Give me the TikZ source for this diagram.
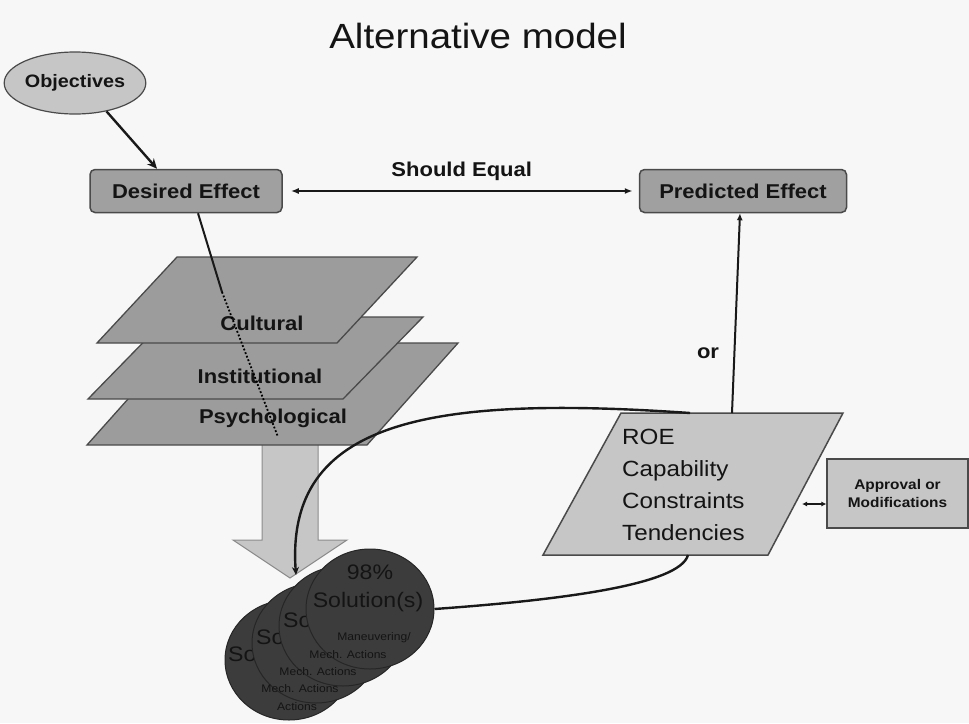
\documentclass[tikz,border=0pt]{standalone}
\usepackage{fontspec}
\setmainfont{Liberation Sans}[FakeStretch=1.1]
\usetikzlibrary{arrows.meta,shapes.geometric}
\definecolor{bg}{HTML}{F7F7F7}
\definecolor{lightfill}{HTML}{C6C6C6}
\definecolor{midfill}{HTML}{A0A0A0}
\definecolor{layerfill}{HTML}{9C9C9C}
\definecolor{darkfill}{HTML}{3C3C3C}
\definecolor{edgecol}{HTML}{4A4A4A}
\definecolor{inktxt}{HTML}{141414}
\tikzset{
  lblbold/.style={font=\fontsize{20}{24}\selectfont\bfseries, text=inktxt},
  effectbox/.style={draw=edgecol, line width=1.5pt, fill=midfill, rounded corners=5pt,
    minimum height=43pt, inner sep=2pt, lblbold},
  layerstyle/.style={draw=edgecol, line width=1.3pt, fill=layerfill},
  connline/.style={draw=black!90, line width=2pt},
  solball/.style={ellipse, draw=black!85, line width=1pt, fill=darkfill,
    minimum width=128pt, minimum height=120pt, inner sep=0pt},
  solbig/.style={text=inktxt, inner sep=0pt, font=\fontsize{21}{24}\selectfont},
  solsmall/.style={text=inktxt, inner sep=0pt, font=\fontsize{11}{13}\selectfont},
}
\begin{document}
\begin{tikzpicture}[x=1pt,y=-1pt]
\fill[bg] (0,0) rectangle (969,723);
\useasboundingbox (0,0) rectangle (969,723);

% title
\node[font=\fontsize{35}{40}\selectfont, text=inktxt] (title) at (478,36) {Alternative model};

% objectives and effects
\node[ellipse, draw=edgecol, line width=1.2pt, fill=lightfill, minimum width=130pt,
  minimum height=62pt, inner sep=0pt, font=\fontsize{18}{22}\selectfont\bfseries, text=inktxt]
  (obj) at (75,83) {Objectives};
\node[effectbox, minimum width=192pt] (des) at (186,191) {Desired Effect};
\node[effectbox, minimum width=207pt] (pred) at (743,191) {Predicted Effect};

\draw[connline, line width=2.4pt, -{Stealth[length=10pt,width=9pt]}] (obj.-42) -- ([xshift=-29pt]des.north);
\draw[connline, line width=1.6pt, {Latex[length=8pt,width=6pt]}-{Latex[length=8pt,width=6pt]}]
  ([xshift=8pt]des.east) -- ([xshift=-6pt]pred.west)
  node[midway, above=6pt, lblbold, text=inktxt] (eq) {Should Equal};

% block arrow
\path[fill=lightfill, draw=black!45, line width=1pt]
  (262,440) -- (318,440) -- (318,540) -- (347,540) -- (290,578) -- (233,540) -- (262,540) -- cycle;

% layers
\path[layerstyle] (178,343) -- (458,343) -- (367,445) -- (87,445) -- cycle;
\path[layerstyle] (168,317) -- (423,317) -- (343,399) -- (88,399) -- cycle;
\path[layerstyle] (177,257) -- (417,257) -- (337,343) -- (97,343) -- cycle;
\node[lblbold] (cult) at (262,323) {Cultural};
\node[lblbold] (inst) at (260,376) {Institutional};
\node[lblbold] (psy) at (273,418) {Psychological};

\coordinate (dotA) at (222,292);
\coordinate (dotB) at (278,437);
\draw[connline] ([xshift=12pt]des.south) -- (dotA);
\draw[black, line width=1.8pt, dotted] (dotA) -- (dotB);

% ROE parallelogram
\path[fill=lightfill, draw=edgecol, line width=1.5pt]
  (621,413) -- (843,413) -- (768,555) -- (543,555) -- cycle;
\node[anchor=north west, align=left, inner sep=0pt, font=\fontsize{22}{32}\selectfont, text=inktxt]
  (roe) at (622,429) {ROE\\Capability\\Constraints\\Tendencies};
\coordinate (roeTop) at (732,413);
\coordinate (roeTL) at (690,413);
\coordinate (roeBot) at (688,555);
\coordinate (roeR) at (802,504);

% approval
\node[draw=edgecol, fill=lightfill, line width=1.2pt, minimum width=141pt, minimum height=69pt,
  align=center, font=\fontsize{14}{18}\selectfont\bfseries, text=inktxt]
  (appr) at (897.5,493.5) {Approval or\\Modifications};
\draw[connline, line width=1.4pt, {Latex[length=5pt,width=5pt]}-{Latex[length=5pt,width=5pt]}]
  (roeR) -- (appr.west |- roeR);

% ROE -> predicted
\draw[connline, line width=2pt, -{Latex[length=7pt,width=6pt]}] (roeTop) -- ([xshift=-3pt]pred.south);
\node[lblbold] (orlbl) at (708,353) {or};

% solution stack (back to front)
\node[solball] (sol1) at (289,660) {};
\node[solbig, anchor=west] (sol1-s) at (228,654) {So};
\node[solsmall] (sol1-a) at (297,707) {Actions};
\node[solball] (sol2) at (316,643) {};
\node[solbig, anchor=west] (sol2-s) at (256,637) {So};
\node[solsmall] (sol2-a) at (300,689) {Mech. Actions};
\node[solball] (sol3) at (343,626) {};
\node[solbig, anchor=west] (sol3-s) at (283,620) {So};
\node[solsmall] (sol3-a) at (318,672) {Mech. Actions};
\node[solball] (sol4) at (370,609) {};
\node[solbig] (sol4-p) at (370,572) {98\%};
\node[solbig] (sol4-s) at (368,602) {Solution(s)};
\node[solsmall] (sol4-m) at (374,638) {Maneuvering/};
\node[solsmall] (sol4-a) at (348,655) {Mech. Actions};

% curves
\draw[connline, line width=2.4pt, -{Stealth[length=8pt,width=7pt]}]
  (roeTL) .. controls (430,395) and (285,420) .. (296,575);
\draw[connline, line width=2.4pt]
  (sol4.east) .. controls (560,600) and (680,585) .. (roeBot);
\end{tikzpicture}
\end{document}
